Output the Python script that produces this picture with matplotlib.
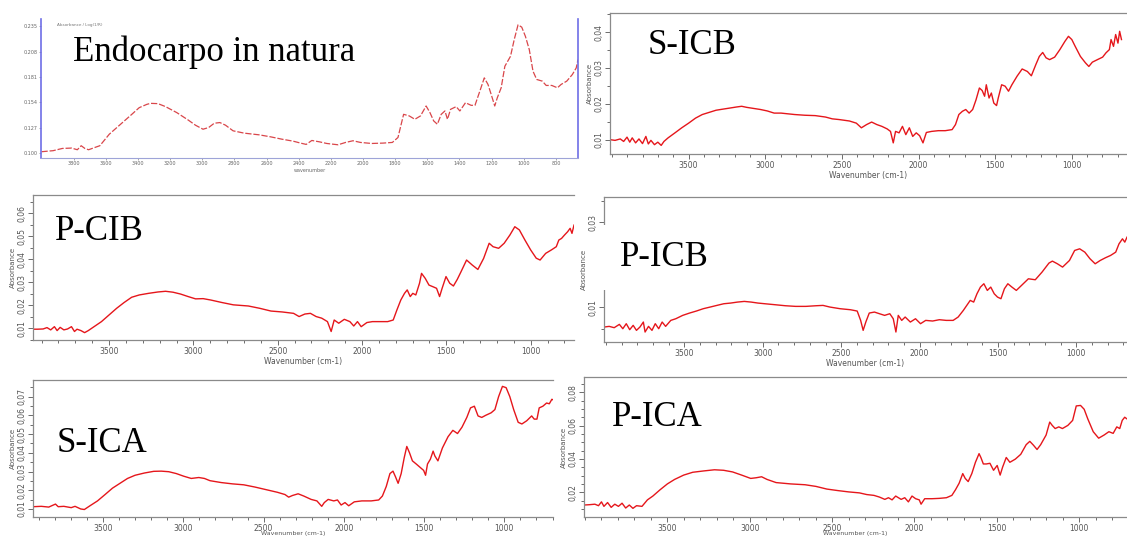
import matplotlib
matplotlib.use("Agg")
import matplotlib.pyplot as plt
from matplotlib.ticker import MultipleLocator, FuncFormatter
from matplotlib.patches import Rectangle

W, H = 1127, 537
RED = "#e5161b"
GREY = "#8a8a8a"

# Endocarpo in natura
endo_wn = [4000, 3928, 3870, 3812, 3777, 3753, 3730, 3707, 3672, 3637, 3578, 3508, 3438, 3392,
           3345, 3322, 3275, 3228, 3158, 3088, 3042, 2995, 2960, 2925, 2890, 2855, 2808, 2738,
           2645, 2575, 2505, 2435, 2388, 2353, 2318, 2272, 2225, 2155, 2108, 2062, 2015, 1945,
           1875, 1817, 1782, 1747, 1712, 1677, 1642, 1607, 1583, 1560, 1537, 1513, 1490, 1474,
           1455, 1420, 1397, 1362, 1327, 1303, 1269, 1245, 1222, 1199, 1180, 1164, 1140, 1117,
           1082, 1059, 1035, 1012, 989, 965, 942, 919, 884, 860, 825, 790, 767, 732, 697, 673, 662]
endo_abs = [0.1014, 0.1025, 0.1049, 0.1053, 0.1035, 0.1078, 0.1049, 0.1035, 0.1057, 0.1078,
            0.1201, 0.1307, 0.1413, 0.1484, 0.1519, 0.1530, 0.1527, 0.1495, 0.1431, 0.1353,
            0.1297, 0.1254, 0.1272, 0.1318, 0.1325, 0.1297, 0.1237, 0.1212, 0.1194, 0.1173,
            0.1148, 0.1127, 0.1106, 0.1092, 0.1134, 0.1120, 0.1102, 0.1088, 0.1113, 0.1131,
            0.1113, 0.1102, 0.1106, 0.1113, 0.1166, 0.1413, 0.1396, 0.1360, 0.1396, 0.1502,
            0.1431, 0.1343, 0.1307, 0.1413, 0.1449, 0.1360, 0.1466, 0.1495, 0.1449, 0.1537,
            0.1509, 0.1509, 0.1679, 0.1802, 0.1732, 0.1608, 0.1502, 0.1590, 0.1696, 0.1926,
            0.2032, 0.2209, 0.2368, 0.2343, 0.2244, 0.2103, 0.1873, 0.1785, 0.1767, 0.1721,
            0.1721, 0.1696, 0.1732, 0.1767, 0.1838, 0.1908, 0.1997]

# S-ICB
sicb_wn = [4013, 3980, 3946, 3924, 3902, 3884, 3868, 3846, 3824, 3801, 3779, 3763, 3746, 3723,
           3701, 3679, 3661, 3634, 3589, 3545, 3500, 3455, 3411, 3366, 3321, 3277, 3232, 3188,
           3154, 3121, 3076, 3031, 2987, 2942, 2897, 2853, 2808, 2741, 2674, 2607, 2563, 2518,
           2451, 2406, 2373, 2339, 2306, 2272, 2239, 2205, 2183, 2165, 2150, 2127, 2105, 2083,
           2060, 2038, 2015, 1993, 1971, 1949, 1915, 1871, 1826, 1781, 1759, 1737, 1714, 1692,
           1670, 1647, 1625, 1603, 1585, 1569, 1558, 1540, 1525, 1509, 1491, 1480, 1458, 1435,
           1413, 1391, 1357, 1324, 1290, 1264, 1235, 1212, 1190, 1168, 1145, 1112, 1078, 1045,
           1022, 1000, 978, 944, 911, 889, 866, 833, 799, 777, 755, 744, 728, 714, 699, 688, 676]
sicb_abs = [0.0100, 0.0098, 0.0102, 0.0095, 0.0107, 0.0093, 0.0105, 0.0091, 0.0102, 0.0089,
            0.0109, 0.0088, 0.0098, 0.0086, 0.0093, 0.0084, 0.0095, 0.0105, 0.0119, 0.0133,
            0.0146, 0.0160, 0.0170, 0.0176, 0.0182, 0.0185, 0.0188, 0.0191, 0.0193, 0.0190,
            0.0187, 0.0184, 0.0180, 0.0174, 0.0174, 0.0172, 0.0170, 0.0168, 0.0167, 0.0163,
            0.0158, 0.0156, 0.0152, 0.0146, 0.0133, 0.0142, 0.0149, 0.0142, 0.0137, 0.0130,
            0.0123, 0.0091, 0.0123, 0.0119, 0.0137, 0.0114, 0.0133, 0.0109, 0.0119, 0.0111,
            0.0091, 0.0120, 0.0123, 0.0125, 0.0125, 0.0128, 0.0142, 0.0170, 0.0179, 0.0184,
            0.0174, 0.0184, 0.0211, 0.0244, 0.0237, 0.0221, 0.0253, 0.0216, 0.0230, 0.0202,
            0.0195, 0.0216, 0.0253, 0.0249, 0.0235, 0.0253, 0.0277, 0.0297, 0.0290, 0.0278,
            0.0309, 0.0332, 0.0343, 0.0328, 0.0323, 0.0330, 0.0351, 0.0374, 0.0388, 0.0379,
            0.0360, 0.0332, 0.0314, 0.0304, 0.0316, 0.0323, 0.0330, 0.0342, 0.0351, 0.0379,
            0.0360, 0.0393, 0.0369, 0.0402, 0.0379]

# P-CIB
pcib_wn = [3951, 3924, 3891, 3868, 3846, 3824, 3808, 3790, 3768, 3746, 3723, 3705, 3690, 3667,
           3645, 3623, 3589, 3545, 3500, 3455, 3411, 3366, 3321, 3266, 3210, 3165, 3121, 3076,
           3031, 2987, 2942, 2897, 2830, 2763, 2674, 2607, 2540, 2473, 2406, 2373, 2339, 2306,
           2272, 2239, 2205, 2183, 2165, 2138, 2105, 2072, 2049, 2027, 2005, 1971, 1938, 1893,
           1848, 1815, 1793, 1770, 1748, 1732, 1714, 1699, 1681, 1659, 1647, 1625, 1603, 1580,
           1558, 1540, 1525, 1502, 1480, 1458, 1435, 1413, 1380, 1346, 1313, 1279, 1246, 1223,
           1190, 1157, 1123, 1094, 1067, 1034, 1000, 967, 944, 911, 877, 848, 833, 817, 799, 781,
           766, 755, 743]
pcib_abs = [0.0096, 0.0096, 0.0097, 0.0103, 0.0093, 0.0107, 0.0090, 0.0104, 0.0093, 0.0097,
            0.0107, 0.0086, 0.0096, 0.0090, 0.0081, 0.0090, 0.0107, 0.0129, 0.0158, 0.0187,
            0.0212, 0.0235, 0.0245, 0.0252, 0.0258, 0.0261, 0.0257, 0.0249, 0.0238, 0.0228,
            0.0229, 0.0223, 0.0212, 0.0202, 0.0197, 0.0187, 0.0175, 0.0171, 0.0165, 0.0151,
            0.0162, 0.0165, 0.0151, 0.0144, 0.0129, 0.0086, 0.0136, 0.0122, 0.0139, 0.0129,
            0.0110, 0.0129, 0.0107, 0.0125, 0.0129, 0.0129, 0.0129, 0.0136, 0.0180, 0.0223,
            0.0252, 0.0267, 0.0238, 0.0252, 0.0245, 0.0296, 0.0339, 0.0317, 0.0288, 0.0281,
            0.0274, 0.0238, 0.0274, 0.0325, 0.0296, 0.0284, 0.0313, 0.0346, 0.0397, 0.0375,
            0.0356, 0.0404, 0.0470, 0.0455, 0.0448, 0.0470, 0.0506, 0.0542, 0.0528, 0.0484,
            0.0441, 0.0405, 0.0397, 0.0426, 0.0441, 0.0455, 0.0484, 0.0491, 0.0506, 0.0520,
            0.0535, 0.0513, 0.0549]

# P-ICB
picb_wn = [4013, 3980, 3948, 3915, 3893, 3871, 3849, 3827, 3806, 3784, 3762, 3751, 3729, 3707,
           3686, 3664, 3642, 3620, 3587, 3555, 3511, 3467, 3424, 3380, 3336, 3293, 3249, 3205,
           3162, 3118, 3074, 3031, 2987, 2922, 2856, 2791, 2725, 2660, 2616, 2572, 2507, 2441,
           2398, 2376, 2360, 2343, 2321, 2288, 2256, 2223, 2190, 2168, 2151, 2136, 2114, 2092,
           2059, 2026, 1994, 1961, 1917, 1874, 1830, 1786, 1754, 1721, 1699, 1677, 1655, 1634,
           1612, 1590, 1568, 1546, 1524, 1503, 1481, 1459, 1437, 1411, 1383, 1350, 1306, 1262,
           1219, 1175, 1153, 1121, 1088, 1044, 1011, 979, 946, 913, 880, 848, 815, 782, 749,
           728, 706, 691, 677]
picb_abs = [0.00537, 0.00553, 0.00522, 0.00600, 0.00498, 0.00616, 0.00475, 0.00577, 0.00459,
            0.00537, 0.00655, 0.00420, 0.00553, 0.00459, 0.00616, 0.00498, 0.00655, 0.00553,
            0.00694, 0.00733, 0.00812, 0.00867, 0.00914, 0.00969, 0.01008, 0.01047, 0.01086,
            0.01102, 0.01125, 0.01141, 0.01125, 0.01102, 0.01086, 0.01063, 0.01039, 0.01024,
            0.01024, 0.01039, 0.01047, 0.01008, 0.00969, 0.00945, 0.00914, 0.00694, 0.00459,
            0.00655, 0.00867, 0.00890, 0.00851, 0.00812, 0.00851, 0.00733, 0.00420, 0.00812,
            0.00694, 0.00773, 0.00655, 0.00733, 0.00616, 0.00694, 0.00679, 0.00710, 0.00694,
            0.00694, 0.00773, 0.00929, 0.01047, 0.01165, 0.01125, 0.01321, 0.01478, 0.01557,
            0.01400, 0.01478, 0.01321, 0.01243, 0.01204, 0.01439, 0.01557, 0.01478, 0.01400,
            0.01517, 0.01674, 0.01651, 0.01831, 0.02043, 0.02090, 0.02027, 0.01949, 0.02105,
            0.02341, 0.02380, 0.02301, 0.02145, 0.02027, 0.02105, 0.02168, 0.02223, 0.02301,
            0.02497, 0.02615, 0.02537, 0.02654]

# S-ICA
sica_wn = [3937, 3885, 3839, 3797, 3780, 3745, 3699, 3675, 3640, 3617, 3582, 3535, 3488, 3442,
           3395, 3348, 3301, 3243, 3185, 3138, 3091, 3044, 2998, 2951, 2904, 2869, 2834, 2764,
           2694, 2624, 2554, 2484, 2414, 2367, 2344, 2320, 2285, 2250, 2204, 2168, 2138, 2122,
           2098, 2063, 2040, 2017, 1993, 1970, 1935, 1888, 1830, 1783, 1760, 1736, 1713, 1694,
           1678, 1662, 1643, 1624, 1608, 1591, 1573, 1549, 1526, 1503, 1491, 1479, 1461, 1444,
           1433, 1414, 1386, 1351, 1321, 1292, 1264, 1234, 1211, 1187, 1164, 1141, 1117, 1082,
           1059, 1036, 1012, 989, 966, 942, 914, 891, 861, 830, 814, 797, 783, 760, 737, 720,
           704, 697]
sica_abs = [0.0112, 0.0114, 0.0110, 0.0126, 0.0112, 0.0114, 0.0107, 0.0114, 0.0100, 0.0097,
            0.0117, 0.0143, 0.0177, 0.0211, 0.0237, 0.0263, 0.0280, 0.0292, 0.0301, 0.0302,
            0.0299, 0.0289, 0.0275, 0.0263, 0.0268, 0.0263, 0.0251, 0.0241, 0.0234, 0.0229,
            0.0217, 0.0203, 0.0189, 0.0177, 0.0163, 0.0172, 0.0181, 0.0169, 0.0151, 0.0143,
            0.0114, 0.0134, 0.0151, 0.0143, 0.0148, 0.0121, 0.0134, 0.0117, 0.0138, 0.0143,
            0.0143, 0.0148, 0.0169, 0.0220, 0.0289, 0.0302, 0.0271, 0.0237, 0.0289, 0.0374,
            0.0434, 0.0400, 0.0357, 0.0340, 0.0323, 0.0306, 0.0280, 0.0340, 0.0366, 0.0409,
            0.0383, 0.0357, 0.0426, 0.0486, 0.0520, 0.0503, 0.0537, 0.0589, 0.0640, 0.0649,
            0.0597, 0.0589, 0.0600, 0.0614, 0.0631, 0.0700, 0.0755, 0.0748, 0.0700, 0.0631,
            0.0563, 0.0554, 0.0571, 0.0597, 0.0580, 0.0580, 0.0640, 0.0649, 0.0666, 0.0662,
            0.0686, 0.0683]

# P-ICA
pica_wn = [4006, 3973, 3940, 3918, 3900, 3885, 3863, 3841, 3819, 3797, 3775, 3753, 3731, 3709,
           3687, 3654, 3621, 3588, 3544, 3500, 3456, 3401, 3346, 3280, 3214, 3159, 3104, 3049,
           2994, 2961, 2928, 2895, 2840, 2752, 2664, 2598, 2532, 2466, 2400, 2334, 2290, 2246,
           2213, 2180, 2158, 2136, 2114, 2081, 2059, 2037, 2015, 1993, 1971, 1960, 1938, 1894,
           1850, 1806, 1773, 1751, 1729, 1707, 1692, 1674, 1652, 1630, 1608, 1597, 1582, 1564,
           1542, 1520, 1498, 1480, 1465, 1443, 1421, 1388, 1355, 1322, 1300, 1278, 1256, 1234,
           1201, 1179, 1164, 1146, 1124, 1102, 1069, 1040, 1018, 992, 970, 948, 915, 882, 849,
           820, 794, 772, 754, 739, 724, 710]
pica_abs = [0.0123, 0.0125, 0.0128, 0.0119, 0.0142, 0.0115, 0.0138, 0.0109, 0.0128, 0.0115,
            0.0134, 0.0105, 0.0123, 0.0103, 0.0119, 0.0115, 0.0154, 0.0177, 0.0215, 0.0250,
            0.0277, 0.0303, 0.0320, 0.0328, 0.0335, 0.0332, 0.0322, 0.0303, 0.0283, 0.0287,
            0.0293, 0.0277, 0.0258, 0.0250, 0.0245, 0.0235, 0.0219, 0.0210, 0.0202, 0.0196,
            0.0186, 0.0181, 0.0171, 0.0157, 0.0167, 0.0154, 0.0177, 0.0157, 0.0167, 0.0142,
            0.0177, 0.0161, 0.0154, 0.0128, 0.0161, 0.0161, 0.0163, 0.0167, 0.0181, 0.0215,
            0.0254, 0.0312, 0.0283, 0.0264, 0.0312, 0.0380, 0.0432, 0.0409, 0.0370, 0.0370,
            0.0374, 0.0332, 0.0361, 0.0303, 0.0351, 0.0409, 0.0380, 0.0399, 0.0428, 0.0486,
            0.0506, 0.0483, 0.0457, 0.0486, 0.0544, 0.0622, 0.0602, 0.0583, 0.0593, 0.0583,
            0.0602, 0.0632, 0.0719, 0.0722, 0.0699, 0.0641, 0.0564, 0.0525, 0.0544, 0.0564,
            0.0554, 0.0593, 0.0583, 0.0632, 0.0651, 0.0641]

spec_xticks = [3500, 3000, 2500, 2000, 1500, 1000]


def px_rect(left, top, right, bottom):
    return [left / W, 1 - bottom / H, (right - left) / W, (bottom - top) / H]


def comma(v, _):
    return f"{v:.2f}".replace(".", ",")


def spectrum_axes(fig, rect, xlim, ylim, yticks, ystep, xlabel=True):
    ax = fig.add_axes(rect)
    ax.set_xlim(*xlim)
    ax.set_ylim(*ylim)
    for side in ("top", "left", "bottom"):
        ax.spines[side].set_color(GREY)
        ax.spines[side].set_linewidth(0.9)
    ax.spines["right"].set_visible(False)
    ax.set_xticks(spec_xticks)
    ax.xaxis.set_minor_locator(MultipleLocator(100))
    ax.set_yticks(yticks)
    ax.yaxis.set_minor_locator(MultipleLocator(ystep))
    ax.yaxis.set_major_formatter(FuncFormatter(comma))
    ax.tick_params(which="both", direction="out", colors="#555555", width=0.6,
                   labelsize=5.5, pad=1.5)
    ax.tick_params(which="major", length=3.5)
    ax.tick_params(which="minor", length=2.2)
    ax.tick_params(axis="y", labelrotation=90)
    for lab in ax.get_yticklabels():
        lab.set_va("center")
    if xlabel:
        ax.set_xlabel("Wavenumber (cm-1)", fontsize=5.5, color="#555555", labelpad=0.5)
    ax.set_ylabel("Absorbance", fontsize=5, color="#555555", labelpad=1)
    return ax


fig = plt.figure(figsize=(W / 100, H / 100), dpi=100)

# top-left: raw endocarp, instrument export style
ax1 = fig.add_axes(px_rect(41, 19, 578, 158))
ax1.plot(endo_wn, endo_abs, color="#d9464a", lw=0.9, ls=(0, (5, 1.5)))
ax1.set_xlim(4003, 662)
ax1.set_ylim(0.0947, 0.243)
ax1.spines["top"].set_visible(False)
for side in ("left", "right"):
    ax1.spines[side].set_color("#6e6ee6")
    ax1.spines[side].set_linewidth(1.2)
ax1.spines["bottom"].set_color("#9ea4d8")
ax1.set_xticks(range(3800, 700, -200))
ax1.set_yticks([0.100, 0.127, 0.154, 0.181, 0.208, 0.235])
ax1.yaxis.set_major_formatter(FuncFormatter(lambda v, _: f"{v:.3f}"))
ax1.tick_params(direction="out", length=1.5, width=0.4, colors="#666666",
                labelsize=3.5, pad=1)
ax1.set_xlabel("wavenumber", fontsize=3.5, color="#666666", labelpad=1)
ax1.text(0.03, 0.97, "Absorbance / Log(1/R)", transform=ax1.transAxes,
         fontsize=3, color="#777777", va="top")

ax2 = spectrum_axes(fig, px_rect(610, 13, 1127, 154), (4013, 640), (0.0060, 0.0453),
                    [0.01, 0.02, 0.03, 0.04], 0.005)
ax2.plot(sicb_wn, sicb_abs, color=RED, lw=1.0)

ax3 = spectrum_axes(fig, px_rect(33, 195, 574, 340), (3951, 743), (0.0049, 0.068),
                    [0.01, 0.02, 0.03, 0.04, 0.05, 0.06], 0.005)
ax3.plot(pcib_wn, pcib_abs, color=RED, lw=1.0)

ax4 = spectrum_axes(fig, px_rect(604, 197, 1127, 342), (4013, 677), (0.00185, 0.036),
                    [0.01, 0.03], 0.005)
ax4.plot(picb_wn, picb_abs, color=RED, lw=1.0)

# bottom row: the x label is squeezed against the lower edge
ax5 = spectrum_axes(fig, px_rect(33, 380, 553, 517), (3937, 697), (0.0057, 0.0789),
                    [0.01, 0.02, 0.03, 0.04, 0.05, 0.06, 0.07], 0.005, xlabel=False)
ax5.plot(sica_wn, sica_abs, color=RED, lw=1.0)

ax6 = spectrum_axes(fig, px_rect(584, 377, 1127, 517), (4006, 710), (0.0051, 0.0893),
                    [0.02, 0.04, 0.06, 0.08], 0.005, xlabel=False)
ax6.plot(pica_wn, pica_abs, color=RED, lw=1.0)

for ax in (ax5, ax6):
    pos = ax.get_position()
    fig.text((pos.x0 + pos.x1) / 2, 1 / H, "Wavenumber (cm-1)", fontsize=4.5,
             color="#555555", ha="center", va="bottom")

# white label block over the P-ICB axis
fig.patches.append(Rectangle((597 / W, 1 - 290 / H), 118 / W, 65 / H,
                             transform=fig.transFigure, facecolor="white",
                             edgecolor="none", zorder=2))

titles = [("Endocarpo in natura", 73, 52), ("S-ICB", 648, 45), ("P-CIB", 55, 232),
          ("P-ICB", 620, 258), ("S-ICA", 57, 443), ("P-ICA", 612, 418)]
for label, x, y in titles:
    fig.text(x / W, 1 - y / H, label, family="Liberation Serif", fontsize=25,
             ha="left", va="center", zorder=3)

fig.savefig("out.png", dpi=100, facecolor="white")
